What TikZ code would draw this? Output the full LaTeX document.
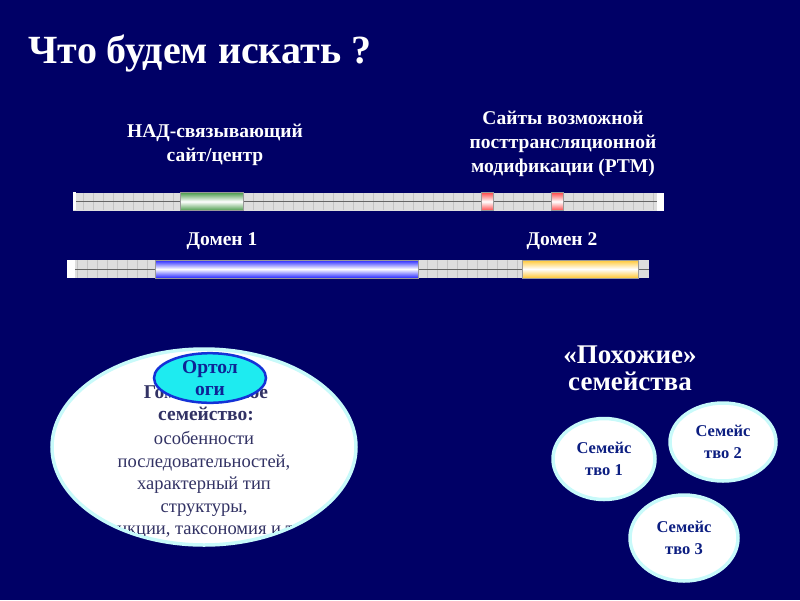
\documentclass[tikz,border=0pt]{standalone}
\usepackage{fontspec}
\setmainfont{Liberation Serif}
\usetikzlibrary{shapes.geometric, positioning, calc}

\definecolor{slidebg}{RGB}{0,0,102}
\definecolor{inktext}{RGB}{50,50,100}
\definecolor{barfill}{RGB}{222,222,222}
\definecolor{gridgray}{RGB}{196,196,196}
\definecolor{glow}{RGB}{200,250,250}
\definecolor{orthofill}{RGB}{30,235,240}
\definecolor{orthoedge}{RGB}{20,50,215}

\begin{document}
\begin{tikzpicture}[x=1pt, y=-1pt,
  title/.style = {text=white, font=\bfseries\fontsize{40}{44}\selectfont, anchor=west},
  label/.style = {text=white, font=\bfseries\fontsize{19.5}{24}\selectfont, align=center},
  bigcap/.style = {text=white, font=\bfseries\fontsize{27}{27}\selectfont, align=center},
  bar/.style   = {fill=barfill, minimum height=18pt, inner sep=0pt, anchor=west},
  seg/.style   = {draw=black!40, line width=0.6pt, minimum height=18pt, inner sep=0pt},
  family/.style = {ellipse, draw=glow, line width=3.5pt, fill=white, inner sep=0pt,
                   text=orthoedge!60!black, align=center,
                   font=\bfseries\fontsize{16.5}{22}\selectfont},
  gridline/.style = {gridgray, line width=0.5pt},
  midline/.style  = {black!60, line width=1pt}
]

\fill[slidebg] (0,0) rectangle (800,600);
\useasboundingbox (0,0) rectangle (800,600);

%--------------------------------------------------
% Title
%--------------------------------------------------
\node[title] (heading) at (25,53) {Что будем искать ?};

%--------------------------------------------------
% Sequence with sites
%--------------------------------------------------
\node[label] (l_nad) at (215,145) {НАД-связывающий\\сайт/центр};
\node[label] (l_ptm) at (563,144) {Сайты возможной\\посттрансляционной\\модификации (PTM)};

\node[bar, minimum width=591pt] (seq) at (73,201.5) {};
\foreach \x in {83,93,...,655}
  \draw[gridline] (\x,193) -- (\x,210);
\fill[white] (seq.north west) rectangle ++(3,18);
\fill[white] (657,193) rectangle (seq.south east);
\draw[midline] (76,201.5) -- (657,201.5);

\node[seg, minimum width=63pt, top color=green!45!black!70, bottom color=green!45!black!70,
      middle color=white] (nad) at (211.5,201.5) {};
\node[seg, minimum width=12pt, top color=red!70, bottom color=red!70,
      middle color=white] (ptm1) at (487,201.5) {};
\node[seg, minimum width=12pt, top color=red!70, bottom color=red!70,
      middle color=white] (ptm2) at (557.5,201.5) {};

%--------------------------------------------------
% Sequence with domains
%--------------------------------------------------
\node[label] (l_dom1) at (222,241) {Домен 1};
\node[label] (l_dom2) at (562,241) {Домен 2};

\node[bar, minimum width=582pt] (prot) at (67,269) {};
\foreach \x in {77,87,...,645}
  \draw[gridline] (\x,260) -- (\x,278);
\fill[white] (prot.north west) rectangle ++(8,18);
\draw[midline] (75,269) -- (649,269);

\node[seg, minimum width=263pt, top color=blue!85, bottom color=blue!85,
      middle color=white] (dom1) at (286.5,269) {};
\node[seg, minimum width=116pt, top color=orange!55!yellow!80, bottom color=orange!55!yellow!80,
      middle color=white] (dom2) at (580,269) {};

%--------------------------------------------------
% Orthologous family
%--------------------------------------------------
\node[family, minimum width=304pt, minimum height=196pt] (ortho) at (204,447) {};
\begin{scope}
  % text is only seen inside the white ellipse
  \clip (ortho.center) ellipse [x radius=150, y radius=96];
  \node[text=inktext, align=center, font=\bfseries\fontsize{19.5}{22.5}\selectfont]
    (o_head) at (206,403) {Гомологичное\\семейство:};
  \node[text=inktext, align=center, font=\fontsize{18.5}{22.5}\selectfont]
    (o_body) at (204,485) {особенности\\последовательностей,\\характерный тип\\структуры,\\функции, таксономия и т.п.};
\end{scope}
\node[ellipse, draw=orthoedge, line width=2.5pt, fill=orthofill, inner sep=0pt,
      minimum width=112pt, minimum height=49pt, text=orthoedge!70!black, align=center,
      font=\bfseries\fontsize{19.5}{22}\selectfont] (ortol) at (210,378) {Ортол\\оги};

%--------------------------------------------------
% Similar families
%--------------------------------------------------
\node[bigcap] (l_sim) at (630,368) {«Похожие»\\семейства};

\node[family, minimum width=102pt, minimum height=81pt] (fam1) at (604,459) {Семейс\\тво 1};
\node[family, minimum width=106pt, minimum height=78pt] (fam2) at (723,442) {Семейс\\тво 2};
\node[family, minimum width=108pt, minimum height=86pt] (fam3) at (684,538) {Семейс\\тво 3};

\end{tikzpicture}
\end{document}
